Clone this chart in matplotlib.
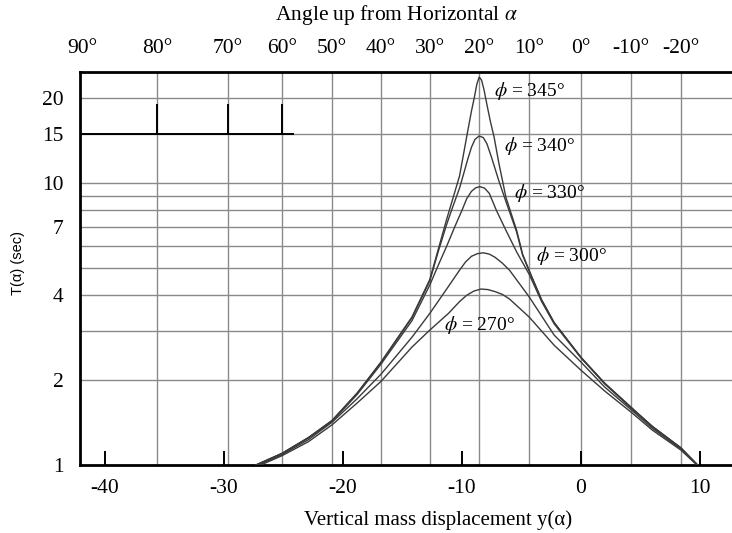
import numpy as np
import matplotlib.pyplot as plt
from matplotlib.ticker import FixedLocator, NullLocator

plt.rcParams['font.family'] = ['Liberation Serif', 'DejaVu Serif']
plt.rcParams['mathtext.fontset'] = 'stix'
plt.rcParams['axes.unicode_minus'] = False

# curves: y(alpha) vs T(alpha)
x345 = [-27.3, -25.1, -22.9, -20.9, -18.8, -16.8, -14.2, -12.7, -12.0, -11.3, -10.7, -10.2,
        -9.55, -9.2, -8.95, -8.75, -8.55, -8.35, -8.15, -7.9, -7.6, -7.3, -6.9, -6.3,
        -5.4, -4.9, -4.35, -3.3, -2.25, 0.0, 2.0, 4.3, 6.0, 8.4, 9.8]
t345 = [1.0, 1.10, 1.25, 1.44, 1.80, 2.32, 3.35, 4.55, 5.8, 7.4, 9.0, 10.6,
        15.0, 18.0, 20.2, 22.4, 23.8, 23.2, 21.5, 19.0, 16.5, 14.6, 11.8, 8.9,
        6.8, 5.6, 4.9, 3.85, 3.2, 2.41, 1.95, 1.59, 1.37, 1.15, 1.0]

x340 = [-27.3, -25.1, -22.9, -20.9, -18.8, -16.8, -14.2, -12.7, -12.0, -11.3, -10.7, -10.2,
        -9.8, -9.5, -9.2, -8.9, -8.55, -8.2, -7.9, -7.5, -6.9, -6.3, -5.4, -4.9,
        -4.35, -3.3, -2.25, 0.0, 2.0, 4.3, 6.0, 8.4, 9.8]
t340 = [1.0, 1.10, 1.25, 1.44, 1.80, 2.31, 3.33, 4.5, 5.7, 7.1, 8.4, 9.6,
        11.0, 12.2, 13.4, 14.3, 14.7, 14.5, 13.8, 12.3, 10.2, 8.6, 6.7, 5.55,
        4.88, 3.85, 3.2, 2.41, 1.95, 1.59, 1.37, 1.15, 1.0]

x330 = [-27.3, -25.1, -22.9, -20.9, -18.8, -16.8, -14.2, -12.7, -12.0, -11.3, -10.6, -10.0,
        -9.6, -9.2, -8.85, -8.5, -8.1, -7.7, -7.1, -6.3, -5.4, -4.35, -3.3, -2.25,
        0.0, 2.0, 4.3, 6.0, 8.4, 9.8]
t330 = [1.0, 1.10, 1.25, 1.43, 1.78, 2.28, 3.25, 4.35, 5.1, 5.95, 7.0, 8.0,
        8.8, 9.35, 9.62, 9.72, 9.6, 9.2, 8.0, 6.8, 5.7, 4.75, 3.8, 3.17,
        2.40, 1.94, 1.58, 1.37, 1.15, 1.0]

x300 = [-27.1, -25.1, -22.9, -20.9, -18.8, -16.8, -14.2, -12.7, -11.3, -10.2, -9.7, -9.2,
        -8.7, -8.2, -7.7, -7.2, -6.6, -6.0, -4.35, -2.25, 0.0, 2.0, 4.3, 6.0, 8.4, 9.8]
t300 = [1.0, 1.09, 1.23, 1.42, 1.72, 2.1, 2.84, 3.45, 4.2, 4.91, 5.25, 5.5,
        5.62, 5.66, 5.6, 5.45, 5.2, 4.91, 3.95, 2.89, 2.32, 1.89, 1.56, 1.35, 1.14, 1.0]

x270 = [-26.9, -25.1, -22.9, -20.9, -18.8, -16.8, -14.2, -12.7, -11.1, -10.2, -9.6, -9.0,
        -8.4, -7.8, -7.2, -6.6, -6.0, -4.35, -2.25, 0.0, 2.0, 4.3, 6.0, 8.4, 9.75]
t270 = [1.0, 1.08, 1.21, 1.39, 1.66, 1.98, 2.62, 3.01, 3.46, 3.8, 4.0, 4.14,
        4.21, 4.19, 4.12, 4.03, 3.88, 3.35, 2.66, 2.17, 1.83, 1.53, 1.33, 1.13, 1.0]

curve_labels = ['345', '340', '330', '300', '270']
label_x = [-7.3, -6.45, -5.6, -3.8, -11.5]
label_y = [21.2, 13.5, 9.2, 5.5, 3.14]

# top axis: angle positions on the y(alpha) scale
alpha_pos = [-41.9, -35.6, -29.7, -25.1, -20.9, -16.8, -12.7, -8.6, -4.35, 0.0, 4.2, 8.4]
alpha_lbl = ['90°', '80°', '70°', '60°', '50°', '40°', '30°', '20°', '10°', '0°', '-10°', '-20°']

x_ticks = [-40, -30, -20, -10, 0, 10]
y_ticks = [1, 2, 4, 7, 10, 15, 20]
y_grid = [2, 3, 4, 5, 6, 7, 8, 9, 10, 15, 20]

fig = plt.figure(figsize=(7.32, 5.33), dpi=100)
ax = fig.add_axes([0.1093, 0.1276, 0.8907, 0.7374])
ax.set_yscale('log')
ax.set_xlim(-42.1, 12.7)
ax.set_ylim(1, 24.8)

for v in y_grid:
    ax.axhline(v, color='#8a8a8a', lw=1.0, zorder=1)
for v in alpha_pos[1:]:
    ax.axvline(v, color='#8a8a8a', lw=1.0, zorder=1)

# stray black bracket at top left
ax.plot([-42.1, -24.2], [15, 15], color='black', lw=1.4, zorder=2)
for v in alpha_pos[1:4]:
    ax.plot([v, v], [15, 19], color='black', lw=1.4, zorder=2)

for xs, ts in [(x345, t345), (x340, t340), (x330, t330), (x300, t300), (x270, t270)]:
    ax.plot(xs, ts, color='#3a3a3a', lw=1.0, zorder=3)

for lb, lx, ly in zip(curve_labels, label_x, label_y):
    ax.text(lx, ly, r'$\phi$ = ' + lb + '°', fontsize=14, va='center', ha='left', zorder=4)

ax.xaxis.set_major_locator(FixedLocator(x_ticks))
ax.yaxis.set_major_locator(FixedLocator(y_ticks))
ax.yaxis.set_minor_locator(NullLocator())
ax.set_yticklabels([str(v) for v in y_ticks])
ax.tick_params(axis='x', direction='in', length=10, width=1.4, pad=10, labelsize=15.5)
ax.tick_params(axis='y', length=0, pad=12, labelsize=15.5)

for s in ['left', 'bottom', 'top']:
    ax.spines[s].set_linewidth(2.0)
ax.spines['right'].set_visible(False)

ax.set_xlabel('Vertical mass displacement y(α)', fontsize=15)
ax.xaxis.set_label_coords(0.549, -0.115)
ax.set_ylabel('T(α) (sec)', fontsize=10.5, family=['Liberation Sans', 'DejaVu Sans'])
ax.yaxis.set_label_coords(-0.084, 0.515)

top = ax.secondary_xaxis('top')
top.xaxis.set_major_locator(FixedLocator(alpha_pos))
top.set_xticklabels(alpha_lbl)
top.tick_params(length=0, pad=10, labelsize=15.5)
top.spines['top'].set_visible(False)
fig.text(397 / 732, 1 - 15 / 533, r'Angle up from Horizontal $\alpha$', fontsize=15.5,
         ha='center', va='center')

fig.savefig('out.png', dpi=100)
